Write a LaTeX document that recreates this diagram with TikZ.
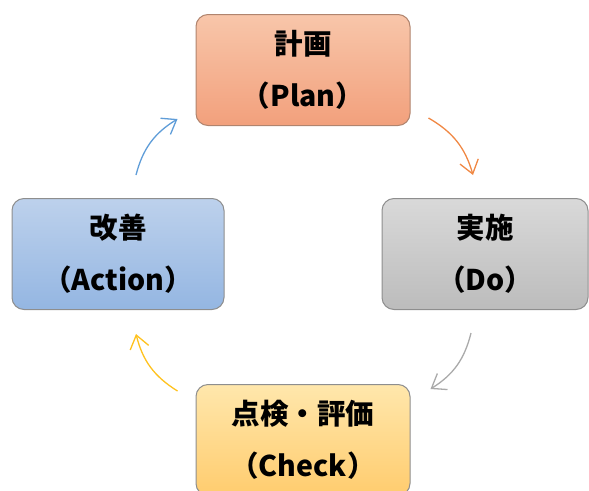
\documentclass[tikz,border=0pt]{standalone}
\usepackage{fontspec}
\setmainfont{Noto Sans CJK JP}
\usetikzlibrary{arrows.meta, positioning, calc}

\definecolor{planTop}{HTML}{F8C6AA}
\definecolor{planBot}{HTML}{F2A07C}
\definecolor{planLine}{HTML}{B0846E}
\definecolor{doTop}{HTML}{D9D9D9}
\definecolor{doBot}{HTML}{BCBCBC}
\definecolor{checkTop}{HTML}{FFE7AC}
\definecolor{checkBot}{HTML}{FFCC6E}
\definecolor{actTop}{HTML}{BDD1EC}
\definecolor{actBot}{HTML}{94B6E2}
\definecolor{boxLine}{HTML}{8E8E8E}
\definecolor{arrOrange}{HTML}{F08844}
\definecolor{arrGray}{HTML}{AAAAAA}
\definecolor{arrYellow}{HTML}{FFC21E}
\definecolor{arrBlue}{HTML}{5F9DD8}

\tikzset{
  stage/.style={draw=boxLine, line width=1pt, rounded corners=12pt,
    minimum width=214pt, minimum height=111pt, align=center,
    font=\bfseries\fontsize{28.5}{52}\selectfont},
  cycle/.style={-{Straight Barb[length=13pt,width=19pt]}, line width=1.3pt}
}

\begin{document}
\begin{tikzpicture}[x=1pt, y=-1pt]
    \useasboundingbox (0,0) rectangle (589,490);

    % Stages
    \node[stage, draw=planLine, top color=planTop, bottom color=planBot] (plan) at (303,70) {計画\\（Plan）};
    \node[stage, minimum width=206pt, top color=doTop, bottom color=doBot] (do) at (485,254) {実施\\（Do）};
    \node[stage, top color=checkTop, bottom color=checkBot] (check) at (303,440) {点検・評価\\（Check）};
    \node[stage, minimum width=212pt, top color=actTop, bottom color=actBot] (action) at (118,254) {改善\\（Action）};

    % Cycle arrows
    \draw[cycle, arrOrange] ([shift={(18,-8)}]plan.south east) to[bend left=22] ([shift={(-12,-23)}]do.north);
    \draw[cycle, arrGray] ([shift={(-14,23)}]do.south) to[bend left=22] ([shift={(20,5)}]check.north east);
    \draw[cycle, arrYellow] ([shift={(-18,7)}]check.north west) to[bend left=22] ([shift={(18,24)}]action.south);
    \draw[cycle, arrBlue] ([shift={(18,-23)}]action.north) to[bend left=22] ([shift={(-18,-7)}]plan.south west);
\end{tikzpicture}
\end{document}
